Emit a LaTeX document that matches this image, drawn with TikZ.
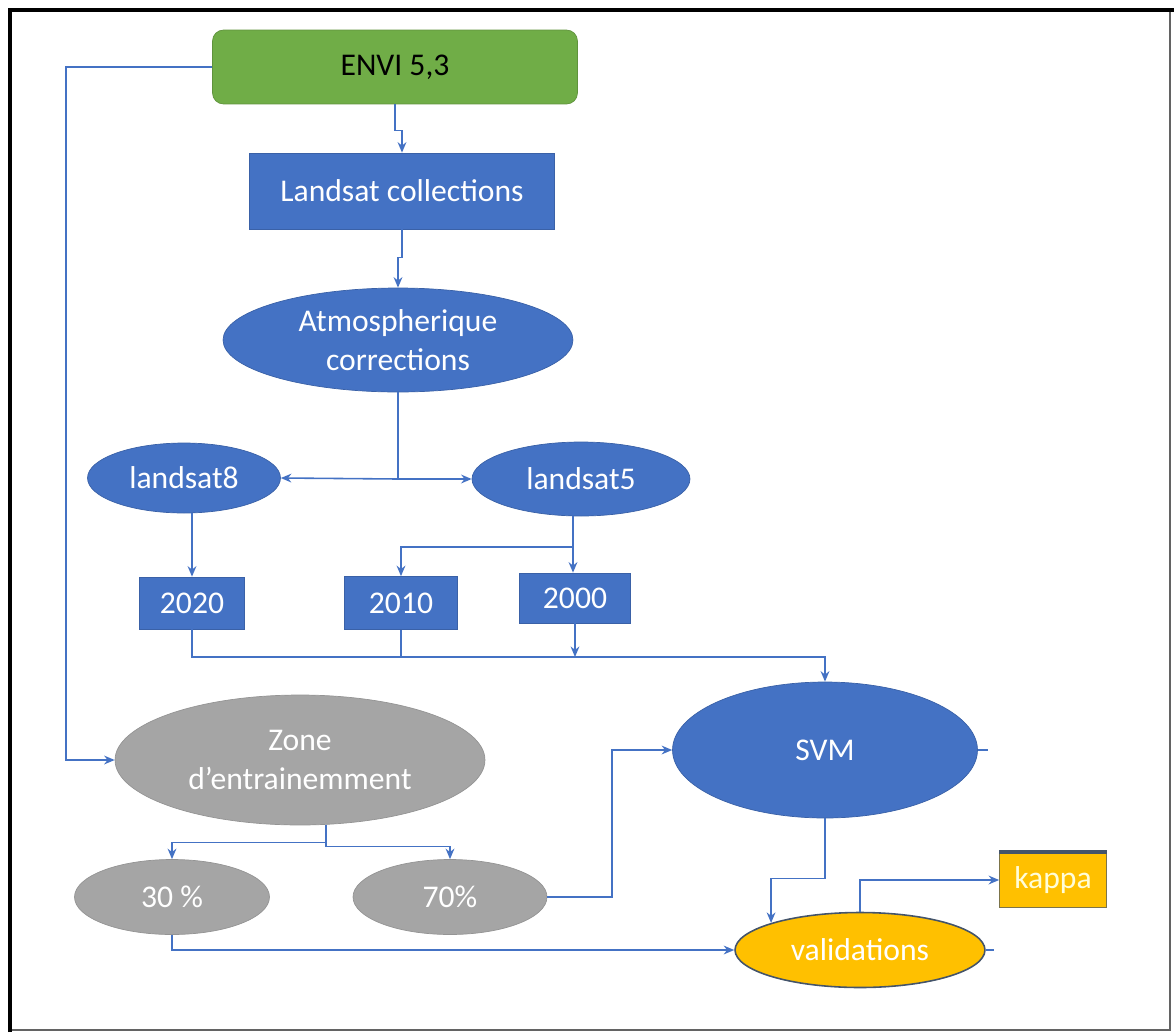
\documentclass[tikz,border=0pt]{standalone}
\usepackage{fontspec}
\setmainfont{Carlito}
\usetikzlibrary{shapes.geometric,arrows.meta}
\definecolor{bleu}{HTML}{4472C4}
\definecolor{vert}{HTML}{70AD47}
\definecolor{gris}{HTML}{A5A5A5}
\definecolor{or}{HTML}{FFC000}
\definecolor{ardoise}{HTML}{44546A}
\begin{document}
\begin{tikzpicture}[x=0.02cm, y=-0.02cm,
  every node/.style={font=\fontsize{18}{22}\selectfont, align=center, inner sep=0pt},
  boite/.style={rectangle, fill=bleu, draw=bleu!85!black, text=white},
  ovale/.style={ellipse, fill=bleu, draw=bleu!85!black, text=white},
  ovalegris/.style={ellipse, fill=gris, draw=gris!90!black, text=white},
  lien/.style={draw=bleu, line width=0.9pt},
  fleche/.style={lien, -{Stealth[length=6pt,width=5pt]}}]

  \useasboundingbox (0,0) rectangle (1174,1032);
  % cadre
  \draw[gris!60!black, line width=0.8pt] (1170,10) -- (1170,1030) -- (10,1030);
  \draw[black, line width=2.3pt] (10,1032) -- (10,10) -- (1174,10);

  \node[rectangle, rounded corners=0.22cm, fill=vert, draw=vert!85!black, text=black,
        minimum width=7.3cm, minimum height=1.48cm] (envi) at (395,67) {ENVI 5,3};
  \node[boite, minimum width=6.1cm, minimum height=1.52cm] (collec) at (402,191) {Landsat collections};
  \node[ovale, minimum width=7cm, minimum height=2.08cm] (atmo) at (398,340) {Atmospherique\\corrections};
  \node[ovale, minimum width=3.86cm, minimum height=1.4cm] (ls8) at (184,478) {landsat8};
  \node[ovale, minimum width=4.36cm, minimum height=1.48cm] (ls5) at (581,479) {landsat5};
  \node[boite, minimum width=2.1cm, minimum height=1.04cm] (a2020) at (192,603) {2020};
  \node[boite, minimum width=2.26cm, minimum height=1.06cm] (a2010) at (401,603) {2010};
  \node[boite, minimum width=2.22cm, minimum height=1cm] (a2000) at (575,598) {2000};
  \node[ovalegris, minimum width=7.4cm, minimum height=2.6cm] (zone) at (300,760) {Zone\\d’entrainemment};
  \node[ovale, minimum width=6.1cm, minimum height=2.72cm] (svm) at (825,750) {SVM};
  \node[ovalegris, minimum width=3.9cm, minimum height=1.5cm] (p30) at (172,897) {30 \%};
  \node[ovalegris, minimum width=3.88cm, minimum height=1.5cm] (p70) at (450,897) {70\%};
  \node[ellipse, fill=or, draw=ardoise, line width=0.9pt, text=white,
        minimum width=5cm, minimum height=1.5cm] (valid) at (860,950) {validations};
  \node[rectangle, fill=or, draw=ardoise!70!or, text=yellow!15!white,
        minimum width=2.14cm, minimum height=1.1cm] (kappa) at (1053,880) {kappa};
  \draw[ardoise, line width=2pt] (kappa.north west) -- (kappa.north east);

  % liens
  \draw[fleche] (envi.west) -- (66,67) |- (zone.west);
  \draw[fleche] (envi.south) -- ++(0,26) -| (collec.north);
  \draw[fleche] (collec.south) -- ++(0,28) -| (atmo.north);
  \coordinate (carr) at (atmo.south |- ls5.west);
  \draw[lien] (atmo.south) -- (carr);
  \draw[fleche] (carr) -- (ls8.east);
  \draw[fleche] (carr) -- (ls5.west);
  \draw[fleche] (a2020.north |- ls8.south) -- (a2020.north);
  \coordinate (fourche) at (573,547);
  \draw[lien] (ls5.south -| fourche) -- (fourche);
  \draw[fleche] (fourche) -| (a2010.north);
  \draw[fleche] (fourche) -- (fourche |- a2000.north);
  \coordinate (bus) at (a2020.south |- 0,657);
  \draw[fleche] (a2020.south) -- (bus) -| (svm.north);
  \draw[lien] (a2010.south) -- (a2010.south |- bus);
  \draw[fleche] (a2000.south) -- (a2000.south |- bus);
  \draw[fleche] (zone.-68) -- ++(0,18) -| (p30.north);
  \draw[fleche] (zone.-68) -- ++(0,22) -| (p70.north);
  \draw[fleche] (p70.east) -- (612,897) |- (svm.west);
  \draw[fleche] (p30.south) |- (valid.west);
  \draw[fleche] (svm.south) -- ++(0,60) -| (valid.north west);
  \draw[fleche] (valid.north) |- (kappa.west);
  \draw[lien] (svm.east) -- ++(10,0);
  \draw[lien] (valid.east) -- ++(8,0);
\end{tikzpicture}
\end{document}
